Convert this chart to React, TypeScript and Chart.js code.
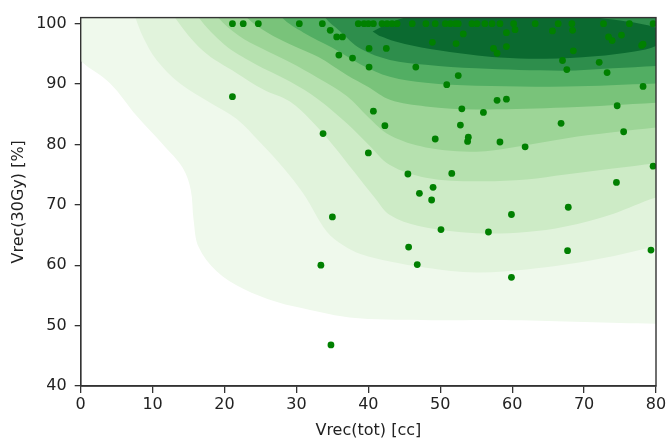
import React, { useEffect, useRef } from "react";
import { Chart, registerables } from "chart.js";

Chart.register(...registerables);

// ---- axis ticks ----
const X_TICKS = [0, 10, 20, 30, 40, 50, 60, 70, 80];
const Y_TICKS = [40, 50, 60, 70, 80, 90, 100];

// ---- scatter observations: Vrec(tot) [cc] vs Vrec(30Gy) [%] ----
const pointX = [
  21.1, 22.6, 24.7, 30.4, 33.6, 38.6, 39.4, 40.0, 40.7, 41.9, 42.6, 43.3, 44.0, 46.1, 48.0, 49.3,
  50.7, 51.4, 52.1, 52.5, 54.4, 55.1, 56.2, 57.2, 58.3, 60.2, 63.2, 66.4, 68.3, 72.7, 76.3, 79.6,
  34.7, 35.6, 36.4, 35.9, 37.8, 40.1, 42.5, 40.1, 46.6, 21.1, 40.7, 42.3, 33.7, 48.9,
  53.2, 59.2, 60.4, 65.6, 68.4, 52.2, 57.4, 57.9, 59.2, 68.5, 73.4, 73.9, 75.2, 78.0, 78.2,
  67.0, 67.6, 72.1, 73.2, 52.5, 50.9, 78.2, 57.9, 59.2, 53.0, 56.0, 74.6, 52.8, 66.8, 75.5,
  49.3, 53.9, 53.8, 58.3, 61.8, 79.6, 51.6, 74.5, 49.0, 48.8, 67.8, 59.9, 50.1, 56.7, 67.7,
  79.3, 40.0, 45.5, 47.1, 35.0, 45.6, 33.4, 46.8, 59.9, 34.8,
];
const pointY = [
  100, 100, 100, 100, 100, 100, 100, 100, 100, 100, 100, 100, 100, 100, 100, 100,
  100, 100, 100, 100, 100, 100, 100, 100, 100, 100, 100, 100, 100, 100, 100, 100,
  98.9, 97.8, 97.8, 94.8, 94.3, 95.9, 95.9, 92.8, 92.8, 87.9, 85.5, 83.1, 81.8, 96.9,
  98.3, 98.5, 99.0, 98.8, 98.9, 96.7, 95.9, 95.1, 96.2, 95.5, 97.8, 97.2, 98.1, 96.4, 96.6,
  93.9, 92.4, 93.6, 91.9, 91.4, 89.9, 89.6, 87.3, 87.5, 85.9, 85.3, 86.4, 83.2, 83.5, 82.1,
  80.9, 81.2, 80.5, 80.4, 79.6, 76.4, 75.2, 73.7, 72.9, 70.8, 69.6, 68.4, 65.9, 65.5, 62.4,
  62.5, 78.6, 75.1, 71.9, 68.0, 63.0, 60.0, 60.1, 58.0, 46.8,
];

// ---- density contour boundaries (lower/left edge of each filled level) ----
type Pt = [number, number];
const level1: Pt[] = [
  [-10, 106], [-5, 100], [0, 93.8], [4.1, 90.1], [7.8, 84.7], [11.5, 79.9], [14.2, 76.1], [15.3, 72.5],
  [15.7, 67.5], [16.4, 63.0], [18.9, 59.0], [22.6, 56.1], [27.3, 53.9], [31.9, 52.6],
  [36.5, 51.5], [40, 51.1], [50, 50.9], [60, 50.9], [70, 50.6], [80, 50.3], [85, 50.2], [90, 106],
];
const level2: Pt[] = [
  [-10, 106], [7.0, 103], [7.6, 101], [8.7, 97.7], [10.6, 93.9], [13.8, 90.1], [18.0, 86.9], [21.7, 84.2],
  [24.9, 80.4], [28.2, 76.1], [31.0, 71.8], [34.2, 65.6], [36.5, 63.3], [39, 61.8], [43, 60.6], [48, 59.6],
  [55, 58.8], [62, 59.3], [67.4, 60.1], [74, 61.5], [80, 63.1], [85, 64], [90, 106],
];
const level3: Pt[] = [
  [-10, 106], [12.5, 103], [13.1, 101], [17, 95.5], [21.7, 91.8], [25.4, 89.1], [29.1, 87.1], [32, 84],
  [35, 80], [38, 75.5], [41, 71], [43, 68.3], [47, 66.5], [55, 65.3], [62, 65.5], [67.4, 66.4],
  [74, 68.5], [80, 71.2], [85, 72.5], [90, 106],
];
const level4: Pt[] = [
  [-10, 106], [15.8, 103], [16.4, 101], [20, 96.5], [24, 93.5], [29.1, 90.4], [33, 87.5], [37, 83.5],
  [40, 80], [43, 76.6], [48, 74.5], [55, 73.9], [62, 74.2], [67.4, 75.0], [74, 76], [80, 76.9],
  [85, 77.5], [90, 106],
];
const level5: Pt[] = [
  [-10, 106], [18.5, 103], [19.1, 101], [22, 98], [25, 96], [29.1, 93.6], [33, 91], [37, 88], [40, 84.5],
  [43, 81.5], [48, 79.5], [55, 78.8], [60, 79.5], [67.4, 81.0], [74, 82], [80, 82.8], [85, 83.3], [90, 106],
];
const level6: Pt[] = [
  [-10, 106], [22.5, 103], [23.1, 101], [26, 98.5], [29.1, 96.6], [33, 94.5], [37, 91.5], [40, 89.5],
  [43, 87.4], [48, 86.3], [55, 85.8], [67.4, 86.1], [80, 86.9], [85, 87.2], [90, 106],
];
const level7: Pt[] = [
  [-10, 106], [27.5, 103], [28.0, 101], [31, 98.5], [35, 96], [39, 93.2], [43, 91.2], [48, 90.2],
  [55, 89.7], [67.4, 89.6], [80, 90.1], [85, 90.3], [90, 106],
];
const level8: Pt[] = [
  [-10, 106], [33.5, 103], [34.0, 101], [36, 98.8], [39, 95.8], [43, 94], [48, 93.2], [55, 92.6],
  [67, 92.2], [74, 92.6], [80, 93], [85, 93.3], [90, 106],
];
// innermost (closed) core
const level9: Pt[] = [
  [40.6, 98.7], [42.2, 99.7], [44, 100.6], [46, 101.2], [50, 101.6], [60, 101.8], [70, 101.2],
  [75, 100.5], [78.5, 99.8], [80.5, 99.0], [81, 97.6], [80, 96.3], [77, 95.4], [71.5, 94.6],
  [64.6, 94.2], [58.3, 94.4], [54.1, 94.9], [48.6, 95.8], [43.9, 97.0], [41.5, 98.0],
];

const LEVELS = [level1, level2, level3, level4, level5, level6, level7, level8, level9];
const LEVEL_COLORS = [
  "#eff9ec", "#e1f3dc", "#cdebc6", "#b6e1af", "#9dd597", "#79c37a", "#52ae63", "#2e8e4c", "#0b6a30",
];

const FONT = { family: "'DejaVu Sans', sans-serif", size: 16 };

const boxPlugin = {
  id: "boxFrame",
  afterDatasetsDraw(chart: any) {
    const { ctx, chartArea } = chart;
    const { left, top, right, bottom } = chartArea;
    ctx.save();
    ctx.strokeStyle = "#333";
    ctx.lineWidth = 1.4;
    ctx.strokeRect(left, top, right - left, bottom - top);
    ctx.restore();
  },
};

export default function App() {
  const ref = useRef<HTMLCanvasElement | null>(null);

  useEffect(() => {
    if (!ref.current) return;
    const fills = LEVELS.map((lvl, i) => ({
      data: lvl.map(([x, y]) => ({ x, y })),
      showLine: true,
      fill: "shape",
      backgroundColor: LEVEL_COLORS[i],
      borderColor: "rgba(0,0,0,0)",
      borderWidth: 0,
      pointRadius: 0,
      pointHoverRadius: 0,
      tension: 0.35,
      capBezierPoints: false,
      order: 20 - i,
    }));
    const scatter = {
      data: pointX.map((x, i) => ({ x, y: pointY[i] })),
      showLine: false,
      backgroundColor: "#008000",
      borderColor: "#008000",
      borderWidth: 0,
      pointRadius: 3.4,
      order: 0,
    };

    const chart = new Chart(ref.current, {
      type: "scatter",
      data: { datasets: [scatter, ...fills] as any },
      options: {
        animation: false,
        responsive: false,
        events: [],
        layout: { padding: { top: 10.5, right: 14, left: 0, bottom: 0 } },
        plugins: { legend: { display: false }, tooltip: { enabled: false } },
        scales: {
          x: {
            type: "linear",
            position: "bottom",
            min: 0,
            max: 80,
            afterBuildTicks: (s: any) => {
              s.ticks = X_TICKS.map((v) => ({ value: v }));
            },
            afterFit: (s: any) => {
              s.height = 59;
            },
            ticks: { font: FONT, color: "#222", padding: 2, maxRotation: 0 },
            grid: { drawOnChartArea: false, drawTicks: true, tickLength: 7, color: "#333", lineWidth: 1.3 },
            border: { display: true, color: "#333", width: 1.4 },
            title: {
              display: true,
              text: "Vrec(tot) [cc]",
              font: FONT,
              color: "#222",
              padding: { top: 0, bottom: 5 },
            },
          },
          y: {
            type: "linear",
            position: "left",
            min: 40,
            max: 101,
            afterBuildTicks: (s: any) => {
              s.ticks = Y_TICKS.map((v) => ({ value: v }));
            },
            afterFit: (s: any) => {
              s.width = 80.7;
            },
            ticks: { font: FONT, color: "#222", padding: 8 },
            grid: { drawOnChartArea: false, drawTicks: true, tickLength: 6, color: "#333", lineWidth: 1.3 },
            border: { display: true, color: "#333", width: 1.4 },
            title: {
              display: true,
              text: "Vrec(30Gy) [%]",
              font: FONT,
              color: "#222",
              padding: { top: 9, bottom: 0 },
            },
          },
        },
      },
      plugins: [boxPlugin],
    });
    return () => chart.destroy();
  }, []);

  return (
    <div style={{ position: "fixed", left: 0, top: 0, width: 670, height: 445, background: "#fff" }}>
      <canvas ref={ref} width={670} height={445} style={{ display: "block", width: 670, height: 445 }} />
    </div>
  );
}
